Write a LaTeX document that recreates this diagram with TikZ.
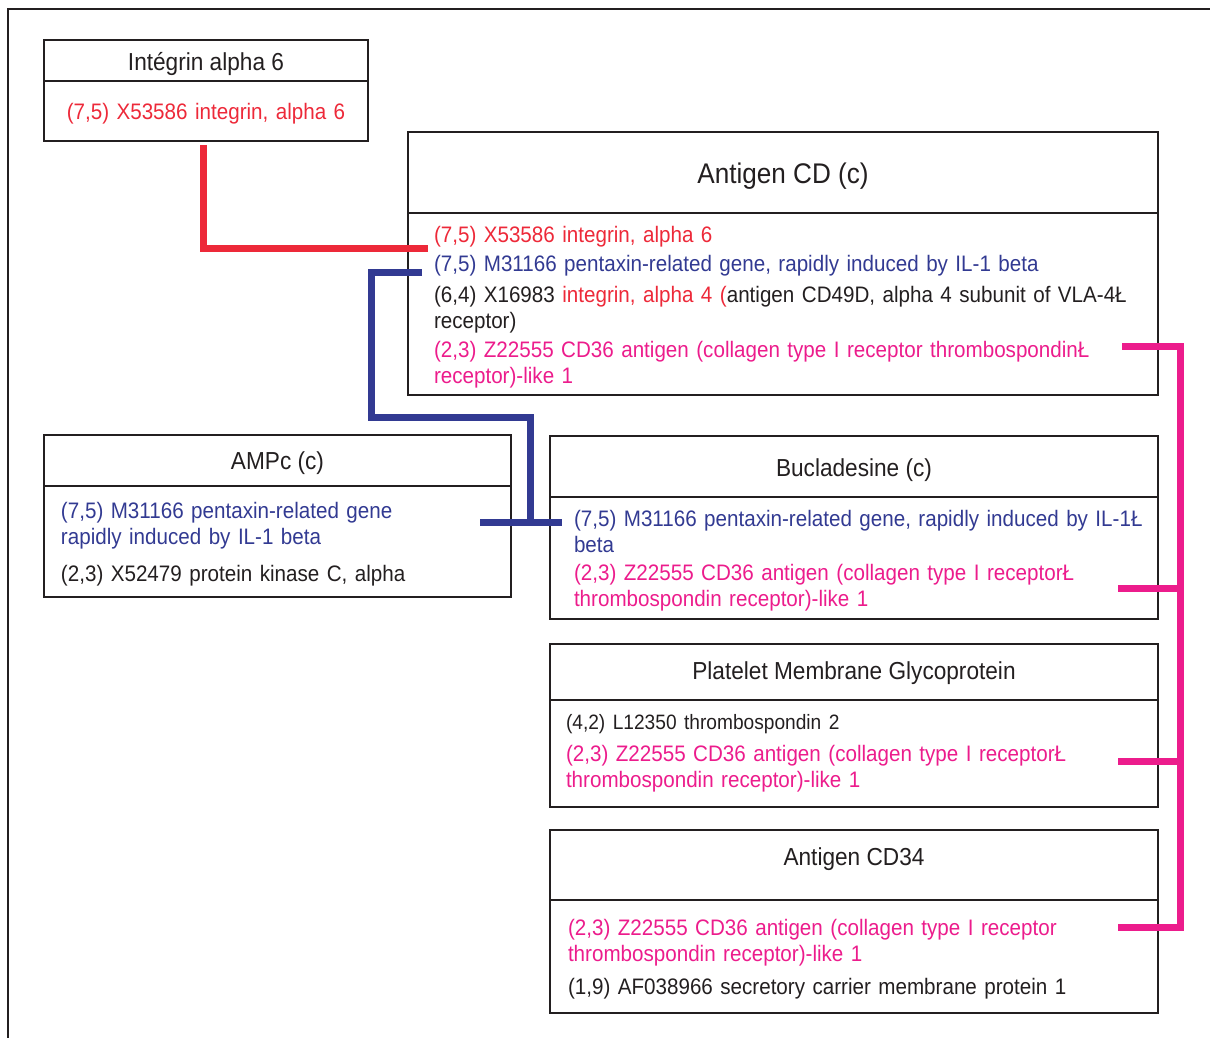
\documentclass[tikz,border=0pt]{standalone}
\usepackage{fontspec}
\setmainfont{Liberation Sans}[FakeStretch=0.92]
\usetikzlibrary{positioning}

\definecolor{genered}{RGB}{237,41,57}
\definecolor{geneblue}{RGB}{50,58,146}
\definecolor{genepink}{RGB}{236,28,140}
\definecolor{boxline}{RGB}{35,31,32}

\tikzset{
  titlebox/.style={draw=boxline, line width=1pt, outer sep=0pt, inner sep=0pt,
    align=center, text=boxline, text height=10pt, text depth=0pt,
    font=\fontsize{12.3}{15}\selectfont},
  bodybox/.style={draw=boxline, line width=1pt, outer sep=0pt, inner ysep=0pt,
    align=left, text=boxline, font=\fontsize{11.2}{13}\selectfont,
    execute at begin node={\rule{0pt}{#1}}},
  bodybox/.default=11.2pt,
  wire/.style={line width=3.5pt}
}

\begin{document}
\begin{tikzpicture}[x=0.5pt, y=-0.5pt]
        \useasboundingbox (0,0) rectangle (1210,1038);
        \draw[boxline, line width=0.8pt] (8,1038) -- (8,9) -- (1210,9);

        % integrin alpha 6
        \node[titlebox, minimum width=162pt, minimum height=20.5pt] (intT) at (206,60.5) {Intégrin alpha 6};
        \node[bodybox, below=0pt of intT, text width=150pt, inner xsep=6pt, minimum height=30pt, align=center] (intB)
                {\textcolor{genered}{(7,5) X53586 integrin, alpha 6}};

        % antigen CD
        \node[titlebox, minimum width=375pt, minimum height=40.5pt, text height=11.2pt, font=\fontsize{14.2}{17}\selectfont] (cdT) at (783,172.5) {Antigen CD (c)};
        \node[bodybox, below=0pt of cdT, text width=349pt, inner xsep=13pt, minimum height=91pt] (cdB)
                {\textcolor{genered}{(7,5) X53586 integrin, alpha 6}\\[1.5pt]
                 \textcolor{geneblue}{(7,5) M31166 pentaxin-related gene, rapidly induced by IL-1 beta}\\[2.5pt]
                 \mbox{(6,4) X16983 \textcolor{genered}{integrin, alpha 4 (}antigen CD49D, alpha 4 subunit of VLA-4Ł}\\
                 receptor)\\[1.5pt]
                 \mbox{\textcolor{genepink}{(2,3) Z22555 CD36 antigen (collagen type I receptor thrombospondinŁ}}\\
                 \textcolor{genepink}{receptor)-like 1}};

        % AMPc
        \node[titlebox, minimum width=233.5pt, minimum height=25.5pt, text height=9pt] (ampT) at (277.5,460.5) {AMPc (c)};
        \node[bodybox, below=0pt of ampT, text width=216.5pt, inner xsep=8.5pt, minimum height=55.5pt] (ampB)
                {\textcolor{geneblue}{(7,5) M31166 pentaxin-related gene}\\
                 \textcolor{geneblue}{rapidly induced by IL-1 beta}\\[5.5pt]
                 (2,3) X52479 protein kinase C, alpha};

        % bucladesine
        \node[titlebox, minimum width=304pt, minimum height=30.5pt] (bucT) at (854,466.5) {Bucladesine (c)};
        \node[bodybox, below=0pt of bucT, text width=280pt, inner xsep=12pt, minimum height=61pt] (bucB)
                {\mbox{\textcolor{geneblue}{(7,5) M31166 pentaxin-related gene, rapidly induced by IL-1Ł}}\\
                 \textcolor{geneblue}{beta}\\[1pt]
                 \textcolor{genepink}{(2,3) Z22555 CD36 antigen (collagen type I receptorŁ}\\
                 \textcolor{genepink}{thrombospondin receptor)-like 1}};

        % platelet membrane glycoprotein
        \node[titlebox, below=12.5pt of bucB, minimum width=304pt, minimum height=28pt, text height=7pt] (plT) {Platelet Membrane Glycoprotein};
        \node[bodybox=7pt, below=0pt of plT, text width=288pt, inner xsep=8pt, minimum height=53.5pt] (plB)
                {{\fontsize{10.4}{13}\selectfont (4,2) L12350 thrombospondin 2}\\[3pt]
                 \textcolor{genepink}{(2,3) Z22555 CD36 antigen (collagen type I receptorŁ}\\
                 \textcolor{genepink}{thrombospondin receptor)-like 1}};

        % antigen CD34
        \node[titlebox, below=11.5pt of plB, minimum width=304pt, minimum height=35pt, text depth=10pt] (cd34T) {Antigen CD34};
        \node[bodybox, below=0pt of cd34T, text width=286pt, inner xsep=9pt, minimum height=56.5pt] (cd34B)
                {\textcolor{genepink}{(2,3) Z22555 CD36 antigen (collagen type I receptor}\\
                 \textcolor{genepink}{thrombospondin receptor)-like 1}\\[3.5pt]
                 (1,9) AF038966 secretory carrier membrane protein 1};

        % connectors
        \coordinate (redEnd) at ([xshift=10pt, yshift=28pt]cdB.west);
        \draw[wire, genered] ([xshift=-1.5pt, yshift=-2pt]intB.south) |- (redEnd);

        \coordinate (blueStart) at ([xshift=7pt, yshift=16pt]cdB.west);
        \coordinate (blueBend) at (371,417);
        \coordinate (blueFork) at (530,522);
        \draw[wire, geneblue] (blueStart) -| (blueBend) -| (blueFork);
        \draw[wire, geneblue] ([xshift=-15.5pt]ampB.east |- blueFork) -- ([xshift=6pt]bucB.west |- blueFork);

        \coordinate (pinkA) at ([xshift=-18pt, yshift=-21pt]cdB.east);
        \coordinate (pinkB) at ([xshift=-20pt, yshift=-15pt]bucB.east);
        \coordinate (pinkC) at ([xshift=-20pt, yshift=-3.75pt]plB.east);
        \coordinate (pinkD) at ([xshift=-20pt, yshift=14.75pt]cd34B.east);
        \coordinate (rail) at ([xshift=11pt]cdB.east);
        \draw[wire, genepink] (pinkA) -- (pinkA -| rail) -- (pinkD -| rail) -- (pinkD);
        \foreach \s in {pinkB, pinkC}
        {
                \draw[wire, genepink] (\s) -- (\s -| rail);
        }

\end{tikzpicture}
\end{document}
